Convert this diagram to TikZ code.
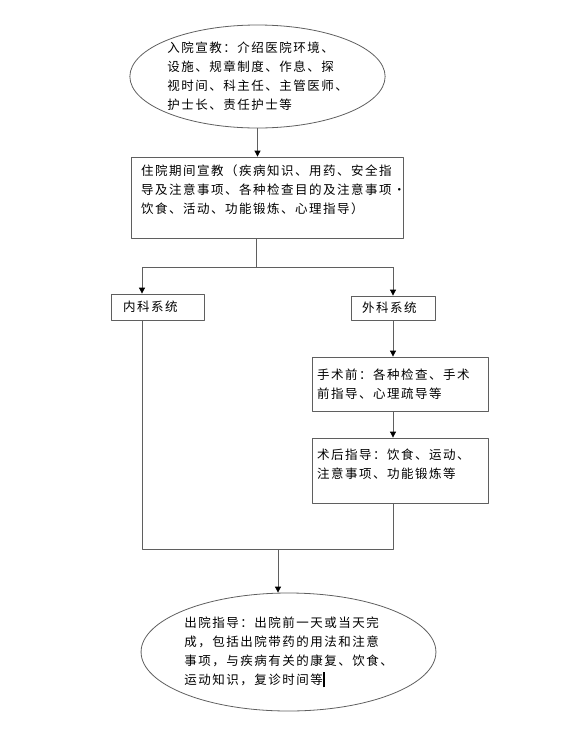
\documentclass[tikz,border=0pt]{standalone}
\usepackage{fontspec}
\newfontfamily\cjk[LetterSpace=12]{Noto Sans CJK SC}
\usetikzlibrary{shapes.geometric,arrows.meta}
\definecolor{xianse}{RGB}{95,95,95}
\begin{document}
\begin{tikzpicture}[x=1pt, y=-1pt, line join=round]
    % 样式
    \tikzset{
      wenzi/.style={font=\cjk\fontsize{12.5}{19}\selectfont, text=black, align=left},
      kuang/.style={wenzi, rectangle, draw=xianse, line width=0.8pt, inner xsep=10pt},
      tuoyuan/.style={wenzi, ellipse, draw=xianse, line width=0.8pt, inner sep=0pt},
      xian/.style={draw=xianse, line width=0.8pt},
      jiantou/.style={xian, -{Triangle[length=6pt,width=6pt,color=black]}}
    }
    \useasboundingbox (0,0) rectangle (576,745);

    % 节点
    \node[tuoyuan, minimum width=251pt, minimum height=103pt] (ruyuan) at (257.5,76.5)
      {入院宣教：介绍医院环境、\\设施、规章制度、作息、探\\视时间、科主任、主管医师、\\护士长、责任护士等};
    \node[kuang, minimum width=272pt, minimum height=81pt, text width=252pt, text depth=54pt] (zhuyuan) at (267,197.5)
      {住院期间宣教（疾病知识、用药、安全指\\导及注意事项、各种检查目的及注意事项·\\饮食、活动、功能锻炼、心理指导）};
    \node[kuang, minimum width=93pt, minimum height=26pt, inner xsep=12pt, text width=69pt] (neike) at (157.5,307) {内科系统};
    \node[kuang, minimum width=84pt, minimum height=24pt, inner xsep=11pt, text width=62pt] (waike) at (393,308) {外科系统};
    \node[kuang, minimum width=176pt, minimum height=54pt, inner xsep=5pt, text width=166pt] (shuqian) at (400,384)
      {手术前：各种检查、手术\\前指导、心理疏导等};
    \node[kuang, minimum width=176pt, minimum height=65pt, inner xsep=5pt, text width=166pt, text depth=33pt] (shuhou) at (400,470.5)
      {术后指导：饮食、运动、\\注意事项、功能锻炼等};
    \node[tuoyuan, minimum width=293pt, minimum height=118pt] (chuyuan) at (288.5,652)
      {出院指导：出院前一天或当天完\\成，包括出院带药的用法和注意\\事项，与疾病有关的康复、饮食、\\运动知识，复诊时间等\rule[-3pt]{2pt}{15pt}};

    % 分支点与汇合点
    \coordinate (fen) at (256,267);
    \coordinate (fenL) at (142,267);
    \coordinate (fenR) at (393,267);
    \coordinate (heL) at (142,549);
    \coordinate (heR) at (393,549);
    \coordinate (he) at (278,549);

    % 连线
    \draw[jiantou] (ruyuan.south) -- (ruyuan.south |- zhuyuan.north);
    \draw[xian] (fen |- zhuyuan.south) -- (fen);
    \draw[xian] (fenL) -- (fenR);
    \draw[jiantou] (fenL) -- (fenL |- neike.north);
    \draw[jiantou] (fenR) -- (waike.north);
    \draw[jiantou] (waike.south) -- (waike.south |- shuqian.north);
    \draw[jiantou] (waike.south |- shuqian.south) -- (waike.south |- shuhou.north);
    \draw[xian] (fenL |- neike.south) -- (heL) -- (heR) -- (heR |- shuhou.south);
    \draw[jiantou] (he) -- (he |- chuyuan.north);
\end{tikzpicture}
\end{document}
